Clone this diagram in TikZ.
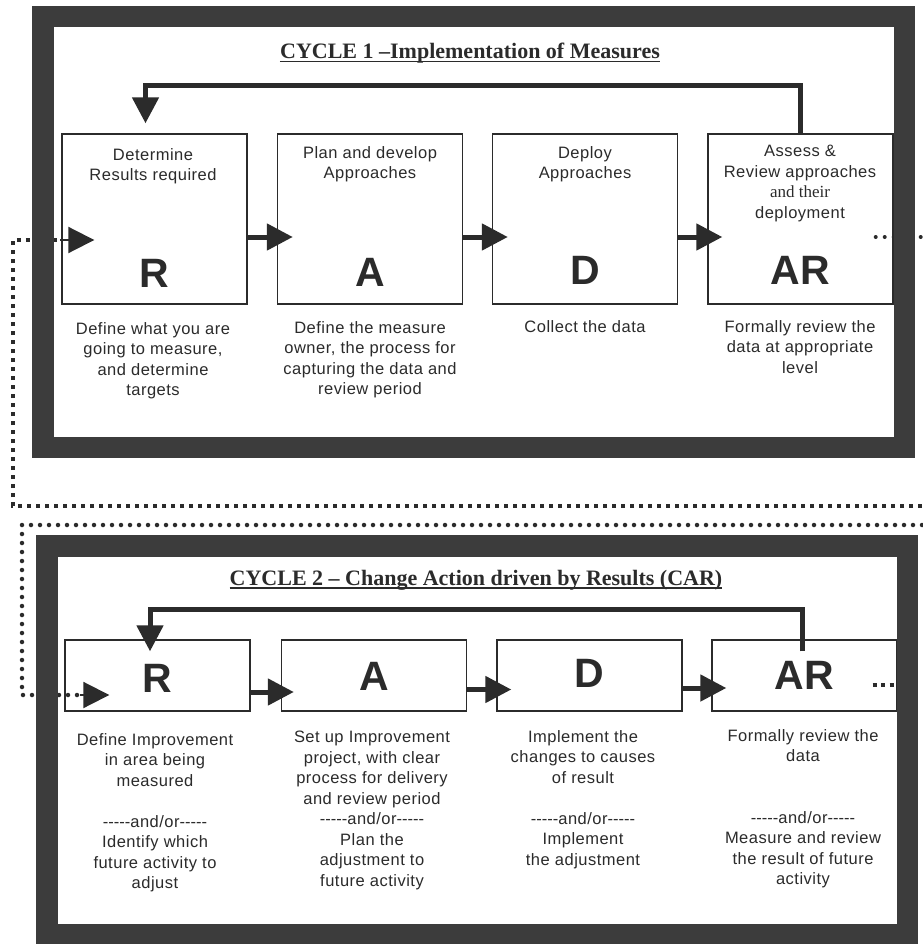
\documentclass[tikz,border=0pt]{standalone}
\usepackage{fontspec}
\setmainfont{Liberation Sans}
\newfontfamily\serf{Liberation Serif}
\newfontfamily\boxf{Liberation Sans}[LetterSpace=3.0]
\usetikzlibrary{arrows.meta}
\definecolor{ink}{HTML}{2B2B2B}
\definecolor{frm}{HTML}{3C3C3C}
\newcommand\fivedash{\mbox{-}\mbox{-}\mbox{-}\mbox{-}\mbox{-}}
\begin{document}
\begin{tikzpicture}[x=1pt,y=-1pt,
  box/.style={draw=ink, line width=1.4pt, minimum width=185pt, inner sep=0pt},
  boxone/.style={box, minimum height=170pt},
  boxtwo/.style={box, minimum height=71pt},
  hdr/.style={text=ink, align=center, inner sep=0pt, anchor=north, font=\boxf\fontsize{16.5}{20.5}\selectfont},
  big/.style={text=ink, inner sep=0pt, anchor=base, font=\bfseries\fontsize{41}{41}\selectfont},
  ttl/.style={text=ink, inner sep=0pt, anchor=base, font=\serf\bfseries\fontsize{22}{26}\selectfont},
  flowarr/.style={draw=ink, line width=5pt, -{Triangle[length=26pt,width=26pt]}},
  tiparr/.style={draw=ink, line width=2pt, -{Triangle[length=26pt,width=26pt]}},
  sqdots/.style={draw=ink, line width=4.5pt, dash pattern=on 4pt off 5pt},
  rddots/.style={draw=ink, line width=4.5pt, line cap=round, dash pattern=on 0pt off 9pt},
  frame/.style={draw=frm, line width=21.5pt}]
\useasboundingbox[fill=white] (0,0) rectangle (922,944);

% ---------- boxes ----------
\node[boxone] (R1)  at (154.5,219) {};
\node[boxone] (A1)  at (370,219) {};
\node[boxone] (D1)  at (585,219) {};
\node[boxone] (AR1) at (800.5,219) {};

\node[boxtwo] (R2)  at (157.5,675.5) {};
\node[boxtwo] (A2)  at (374,675.5) {};
\node[boxtwo] (D2)  at (589.5,675.5) {};
\node[boxtwo] (AR2) at (804.5,675.5) {};

% ---------- dotted links ----------
\coordinate (ex0) at (922,237);
\coordinate (ex1) at (922,506);
\coordinate (lp1) at (13,506);
\coordinate (lp2) at (13,240);
\coordinate (ex2) at (922,525);
\coordinate (lq1) at (22,525);
\coordinate (lq2) at (22,695);
\coordinate (ex3) at (912,685);

\draw[sqdots] (ex1) -- (lp1) -- (lp2) -- (60,240);
\draw[tiparr] (60,240) -- ([xshift=33pt,yshift=-21pt]R1.west);
\draw[rddots, line width=4pt] ([xshift=-18pt,yshift=-18pt]AR1.east) -- (ex0);

\draw[rddots] (ex2) -- (lq1) -- (lq2) -- (80,695);
\draw[tiparr] (80,695) -- ([xshift=45pt,yshift=-19.5pt]R2.west);
\draw[sqdots, line width=4pt, dash pattern=on 4pt off 4.5pt] ([xshift=-25pt,yshift=-9.5pt]AR2.east) -- (ex3);

% ---------- flow arrows ----------
\draw[flowarr] ([yshift=-18pt]R1.east) -- ([yshift=-18pt,xshift=16pt]A1.west);
\draw[flowarr] ([yshift=-18pt]A1.east) -- ([yshift=-18pt,xshift=16pt]D1.west);
\draw[flowarr] ([yshift=-18pt]D1.east) -- ([yshift=-18pt,xshift=15pt]AR1.west);

\draw[flowarr] ([yshift=-16.5pt]R2.east) -- ([yshift=-16.5pt,xshift=13pt]A2.west);
\draw[flowarr] ([yshift=-14pt]A2.east) -- ([yshift=-14pt,xshift=15pt]D2.west);
\draw[flowarr] ([yshift=-12.5pt]D2.east) -- ([yshift=-12.5pt,xshift=15pt]AR2.west);

% ---------- feedback arrows ----------
\draw[flowarr] (AR1.north) -- ++(0,-48) -| ([xshift=-9pt,yshift=10pt]R1.north);
\draw[flowarr] ([xshift=-2.5pt,yshift=-12pt]AR2.north) -- ++(0,-42) -| ([xshift=-7.5pt,yshift=-12pt]R2.north);

% ---------- frames ----------
\draw[frame] (42.75,16.75) rectangle (904.25,447.25);
\draw[frame] (46.75,545.75) rectangle (907.25,934.75);

% ---------- titles ----------
\node[ttl] (T1) at (470,59) {CYCLE 1 –Implementation of Measures};
\draw[ink, line width=1.8pt] ([yshift=-2.5pt]T1.base west) -- ([yshift=-2.5pt]T1.base east);
\node[ttl] (T2) at (476,585) {CYCLE 2 – Change Action driven by Results (CAR)};
\draw[ink, line width=1.8pt] ([yshift=-3pt]T2.base west) -- ([yshift=-3pt]T2.base east);

% ---------- cycle 1 texts ----------
\node[hdr] (R1h) at (153,148) {Determine\\Results required};
\node[hdr] (A1h) at (370,146) {Plan and develop\\Approaches};
\node[hdr] (D1h) at (585,146) {Deploy\\Approaches};
\node[hdr] (AR1h) at (800,145) {Assess \&\\Review approaches\\{\serf\fontsize{17}{20.5}\selectfont and their}\\deployment};

\node[big] (R1l) at (154.5,287) {R};
\node[big] (A1l) at (370,286) {A};
\node[big] (D1l) at (585,284) {D};
\node[big] (AR1l) at (800.5,284) {AR};

\node[hdr] (R1t) at (153,322) {Define what you are\\going to measure,\\and determine\\targets};
\node[hdr] (A1t) at (370,321) {Define the measure\\owner, the process for\\capturing the data and\\review period};
\node[hdr] (D1t) at (585,320) {Collect the data};
\node[hdr] (AR1t) at (800,320) {Formally review the\\data at appropriate\\level};

% ---------- cycle 2 texts ----------
\node[big] (R2l) at (157.5,692) {R};
\node[big] (A2l) at (374,690) {A};
\node[big] (D2l) at (589.5,687) {D};
\node[big] (AR2l) at (804.5,689) {AR};

\node[hdr] (R2t) at (155,733) {Define Improvement\\in area being\\measured\\[20.5pt]\fivedash and/or\fivedash\\Identify which\\future activity to\\adjust};
\node[hdr] (A2t) at (372,731) {Set up Improvement\\project, with clear\\process for delivery\\and review period\\\fivedash and/or\fivedash\\Plan the\\adjustment to\\future activity};
\node[hdr] (D2t) at (583,730) {Implement the\\changes to causes\\of result\\[20.5pt]\fivedash and/or\fivedash\\Implement\\the adjustment};
\node[hdr] (AR2t) at (803,729) {Formally review the\\data\\[41pt]\fivedash and/or\fivedash\\Measure and review\\the result of future\\activity};
\end{tikzpicture}
\end{document}
